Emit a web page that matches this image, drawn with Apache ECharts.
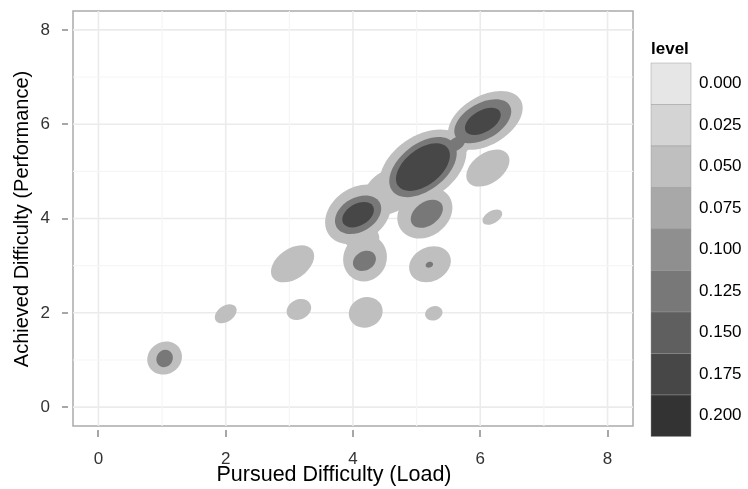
<!DOCTYPE html>
<html><head><meta charset="utf-8">
<script src="https://cdn.jsdelivr.net/npm/echarts@6/dist/echarts.min.js"></script>
<style>html,body{margin:0;padding:0;background:#fff}#c{width:748px;height:489px}</style>
</head><body><div id="c"></div>
<script>
// ---------- data ----------
const xTicks = [0, 2, 4, 6, 8];
const yTicks = [0, 2, 4, 6, 8];
const minorTicks = [1, 3, 5, 7];
const levels = [0.000, 0.025, 0.050, 0.075, 0.100, 0.125, 0.150, 0.175, 0.200];
const levelLabels = ['0.000', '0.025', '0.050', '0.075', '0.100', '0.125', '0.150', '0.175', '0.200'];

// density contour regions (approximated as ellipses): centre, semi-axes (data units), tilt (deg), level
const contourX     = [1.04, 2.00, 3.15, 3.05, 4.20, 5.27, 5.21, 4.19, 4.12, 4.08, 4.58, 5.10, 5.13, 5.60, 6.08, 6.12, 6.19,
                      1.04, 4.18, 5.20, 4.08, 5.16, 5.10, 6.04, 5.62,
                      4.08, 5.10, 6.04];
const contourY     = [1.04, 1.98, 2.07, 3.04, 2.01, 1.99, 3.03, 3.16, 3.62, 4.09, 4.58, 5.09, 4.12, 5.60, 6.08, 5.07, 4.03,
                      1.03, 3.10, 3.02, 4.08, 4.10, 5.09, 6.06, 5.58,
                      4.08, 5.09, 6.06];
const contourA     = [0.28, 0.19, 0.20, 0.38, 0.27, 0.14, 0.34, 0.37, 0.22, 0.56, 0.47, 0.76, 0.46, 0.31, 0.64, 0.38, 0.17,
                      0.14, 0.19, 0.06, 0.39, 0.28, 0.61, 0.49, 0.16,
                      0.27, 0.49, 0.31];
const contourB     = [0.34, 0.17, 0.21, 0.32, 0.32, 0.15, 0.36, 0.46, 0.40, 0.56, 0.44, 0.66, 0.50, 0.30, 0.52, 0.32, 0.13,
                      0.17, 0.20, 0.06, 0.36, 0.25, 0.49, 0.38, 0.13,
                      0.23, 0.38, 0.23];
const contourAngle = [30, 35, 25, 35, 20, 20, 25, 70, 80, 35, 35, 35, 35, 35, 30, 35, 30,
                      60, 30, 20, 30, 35, 38, 30, 35,
                      30, 38, 30];
const contourLevel = [0.050, 0.050, 0.050, 0.050, 0.050, 0.050, 0.050, 0.050, 0.050, 0.050, 0.050, 0.050, 0.050, 0.050, 0.050, 0.050, 0.050,
                      0.125, 0.125, 0.125, 0.125, 0.125, 0.125, 0.125, 0.125,
                      0.175, 0.175, 0.175];

// ---------- styles ----------
const levelColors = ['#e6e6e6', '#d4d4d4', '#bfbfbf', '#a8a8a8', '#8f8f8f', '#787878', '#5f5f5f', '#474747', '#333333'];
const FONT = 'Liberation Sans, Arial, Helvetica, sans-serif';
function colorFor(lv) {
  let best = 0;
  levels.forEach((l, i) => { if (Math.abs(l - lv) < Math.abs(levels[best] - lv)) best = i; });
  return levelColors[best];
}

const contourData = contourX.map((x, i) => [x, contourY[i], contourA[i], contourB[i], contourAngle[i], contourLevel[i]]);
// [value, 0=vertical/x | 1=horizontal/y, kind: 0 minor grid, 1 major grid]
const gridData = xTicks.map(v => [v, 0, 1]).concat(yTicks.map(v => [v, 1, 1]))
  .concat(minorTicks.map(v => [v, 0, 0])).concat(minorTicks.map(v => [v, 1, 0]));

const chart = echarts.init(document.getElementById('c'), null, {renderer: 'canvas'});

// legend + axis titles
const legendEls = [{
  type: 'text', x: 651, y: 49,
  style: {text: 'level', font: 'bold 17px ' + FONT, fill: '#000', verticalAlign: 'middle'}
}];
const boxTop = 63, boxH = 41.5, boxX = 651, boxW = 40;
levels.forEach((l, i) => {
  legendEls.push({
    type: 'rect',
    shape: {x: boxX, y: boxTop + i * boxH, width: boxW, height: boxH},
    style: {fill: levelColors[i], stroke: 'rgba(150,150,150,0.45)', lineWidth: 1}
  });
  legendEls.push({
    type: 'text', x: 699, y: boxTop + (i + 0.5) * boxH,
    style: {text: levelLabels[i], font: '17px ' + FONT, fill: '#000', verticalAlign: 'middle', align: 'left'}
  });
});
legendEls.push({
  type: 'text', x: 334, y: 475,
  style: {text: 'Pursued Difficulty (Load)', font: '21.5px ' + FONT, fill: '#000', align: 'center', verticalAlign: 'middle'}
});
legendEls.push({
  type: 'text', x: 22, y: 219, rotation: Math.PI / 2,
  style: {text: 'Achieved Difficulty (Performance)', font: '20px ' + FONT, fill: '#000', align: 'center', verticalAlign: 'middle'}
});

chart.setOption({
  animation: false,
  backgroundColor: '#fff',
  grid: {left: 73, right: 115, top: 11, bottom: 63, show: true, backgroundColor: '#fff', borderColor: '#ababab', borderWidth: 1.5},
  xAxis: {
    type: 'value', min: -0.4, max: 8.4, offset: 4, position: 'bottom',
    axisLine: {show: false, onZero: false},
    axisTick: {show: false, customValues: xTicks},
    axisLabel: {customValues: xTicks, margin: 21, fontSize: 17, color: '#333', fontFamily: FONT},
    splitLine: {show: false}
  },
  yAxis: {
    type: 'value', min: -0.4, max: 8.4, offset: 5, position: 'left',
    axisLine: {show: false, onZero: false},
    axisTick: {show: false, customValues: yTicks},
    axisLabel: {customValues: yTicks, margin: 18, fontSize: 17, color: '#333', fontFamily: FONT},
    splitLine: {show: false}
  },
  graphic: legendEls,
  series: [
    {
      type: 'custom', z: 1, silent: true,
      data: gridData,
      renderItem: function (params, api) {
        const cs = params.coordSys;
        const v = api.value(0), vertical = api.value(1) === 0, kind = api.value(2);
        const style = {stroke: kind === 1 ? '#ebebeb' : '#f5f5f5', lineWidth: kind === 1 ? 1.6 : 1.2};
        if (vertical) {
          const x = api.coord([v, 0])[0];
          return {type: 'line', shape: {x1: x, y1: cs.y, x2: x, y2: cs.y + cs.height}, style: style};
        }
        const y = api.coord([0, v])[1];
        return {type: 'line', shape: {x1: cs.x, y1: y, x2: cs.x + cs.width, y2: y}, style: style};
      }
    },
    {
      type: 'custom', z: 5, silent: true,
      data: contourData,
      renderItem: function (params, api) {
        const c = api.coord([api.value(0), api.value(1)]);
        const a = api.size([api.value(2), 0])[0];
        const b = api.size([0, api.value(3)])[1];
        return {
          type: 'ellipse', x: c[0], y: c[1], rotation: api.value(4) * Math.PI / 180,
          shape: {cx: 0, cy: 0, rx: a, ry: b},
          style: {fill: colorFor(api.value(5))}
        };
      }
    }
  ]
});

// tick marks: positions from the chart's own axis scales
const tickEls = [];
xTicks.forEach(v => {
  const p = chart.convertToPixel({gridIndex: 0}, [v, 0]);
  const x = Math.round(p[0]);
  tickEls.push({type: 'rect', z: 100, silent: true, shape: {x: x - 0.75, y: 430, width: 1.5, height: 7}, style: {fill: '#8a8a8a'}});
});
yTicks.forEach(v => {
  const p = chart.convertToPixel({gridIndex: 0}, [0, v]);
  const y = Math.round(p[1]);
  tickEls.push({type: 'rect', z: 100, silent: true, shape: {x: 62, y: y - 0.75, width: 6, height: 1.5}, style: {fill: '#8a8a8a'}});
});
chart.setOption({graphic: legendEls.concat(tickEls)});
</script></body></html>
